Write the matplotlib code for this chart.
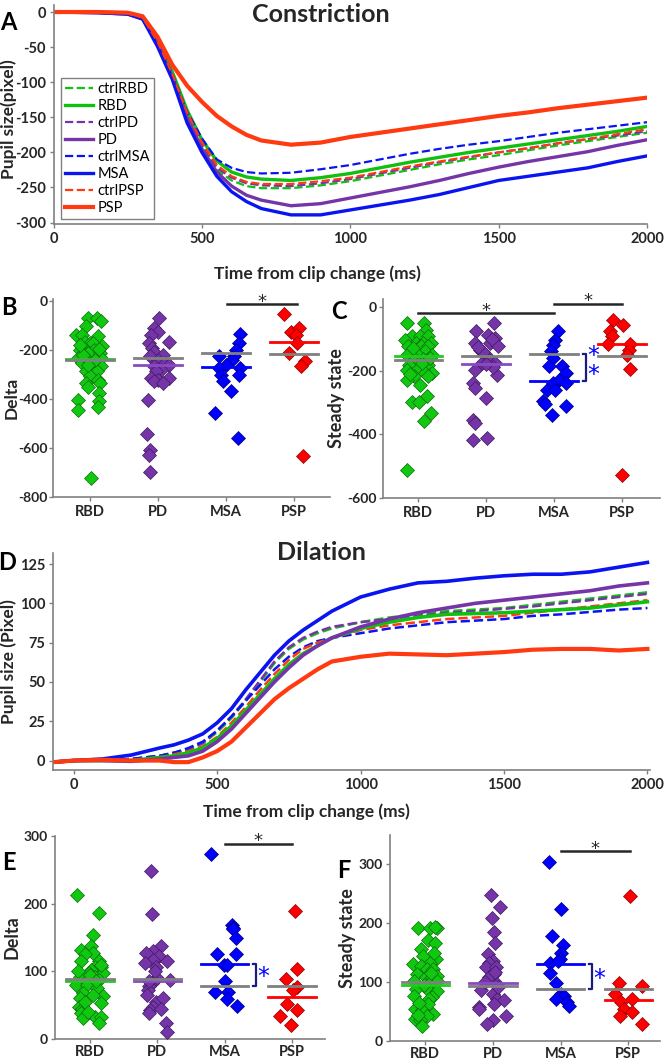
import matplotlib
matplotlib.use("Agg")
import matplotlib.pyplot as plt

plt.rcParams['font.family'] = ['Lato', 'DejaVu Sans']
plt.rcParams['axes.unicode_minus'] = False

groups = ['RBD', 'PD', 'MSA', 'PSP']

# ---------------- A: constriction curves ----------------
t_con = [0, 150, 250, 300, 350, 400, 450, 500, 550, 600, 650, 700, 800, 900, 1000,
         1100, 1200, 1300, 1400, 1500, 1600, 1700, 1800, 1900, 2000]
con_ctrlRBD = [0, 0, -2, -8, -42, -88, -145, -190, -225, -240, -248, -251, -251, -247, -241,
               -233, -225, -217, -210, -204, -197, -190, -184, -178, -172]
con_RBD = [0, 0, -2, -8, -40, -85, -140, -182, -212, -228, -235, -238, -240, -236, -230,
           -222, -214, -207, -200, -194, -188, -182, -176, -170, -163]
con_ctrlPD = [0, -1, -3, -9, -44, -90, -145, -188, -222, -236, -244, -247, -248, -244, -238,
              -230, -222, -214, -207, -200, -194, -187, -181, -176, -170]
con_PD = [0, -1, -3, -10, -45, -92, -150, -195, -228, -248, -261, -268, -276, -273, -265,
          -257, -249, -240, -230, -221, -213, -206, -199, -190, -182]
con_ctrlMSA = [0, -1, -3, -9, -43, -88, -142, -180, -210, -222, -228, -230, -229, -224, -218,
               -210, -202, -195, -189, -184, -178, -172, -167, -162, -157]
con_MSA = [0, -1, -3, -10, -49, -96, -158, -200, -234, -256, -270, -280, -289, -289, -282,
           -275, -268, -260, -250, -240, -234, -228, -222, -213, -205]
con_ctrlPSP = [0, 0, -2, -8, -42, -88, -143, -186, -218, -234, -242, -245, -245, -241, -236,
               -228, -220, -213, -206, -200, -194, -187, -181, -174, -167]
con_PSP = [0, 0, -1, -6, -35, -75, -105, -128, -148, -163, -175, -183, -189, -186, -178,
           -172, -166, -160, -154, -148, -143, -137, -132, -127, -122]

# ---------------- D: dilation curves ----------------
t_dil = [-70, 0, 100, 200, 300, 350, 400, 450, 500, 550, 600, 650, 700, 750, 800, 850, 900,
         1000, 1100, 1200, 1300, 1400, 1500, 1600, 1700, 1800, 1900, 2000]
dil_ctrlRBD = [-1, 0, 0, 1, 3, 5, 7, 11, 18, 27, 38, 50, 62, 71, 77, 81, 84,
               88, 91, 93, 95, 96, 97, 99, 101, 103, 105, 107]
dil_RBD = [-1, 0, 0, 0, 2, 3, 5, 8, 14, 22, 32, 42, 52, 61, 68, 73, 78,
           84, 88, 91, 93, 93.5, 94, 95, 96, 97, 99, 101]
dil_ctrlPD = [-1, 0, 0, 1, 3, 5, 7, 11, 19, 28, 39, 51, 63, 72, 78, 82, 85,
              88, 90, 92, 94, 95, 96.5, 98, 100, 102, 104, 106]
dil_PD = [-1, 0, 0, -0.5, 1, 2, 3, 6, 12, 20, 30, 40, 50, 59, 67, 73, 78,
          85, 90, 94, 97, 100, 102, 104, 106, 108, 111, 113]
dil_ctrlMSA = [-1, 0, 0, 1, 3, 5, 8, 12, 19, 28, 38, 48, 58, 66, 72, 76, 78,
               81, 84, 86, 88, 89, 90, 92, 93, 94.5, 96, 97]
dil_MSA = [-1, 0, 1, 3.5, 8, 10, 13, 17, 24, 33, 45, 56, 67, 76, 83, 89, 95,
           104, 109, 113, 114, 116, 117.5, 118.5, 118.5, 120, 123, 126]
dil_ctrlPSP = [-1, 0, 0, 0.5, 2, 4, 6, 9, 15, 24, 34, 45, 55, 64, 71, 75, 78,
               83, 86, 88, 90, 91, 92, 94, 96, 98, 100, 102]
dil_PSP = [-1, 0, 0.5, 0, 0, -1, -1, 2, 6, 12, 21, 30, 39, 46, 52, 58, 63,
           66, 68, 67.5, 67, 68, 69, 70.5, 71, 71, 70, 71]

# ---------------- B: constriction delta ----------------
b_rbd = [-68, -68, -82, -102, -136, -136, -143, -164, -170, -170, -184, -198, -198, -211, -211,
         -232, -232, -232, -252, -252, -252, -266, -286, -286, -307, -320, -334, -334, -348, -375,
         -402, -409, -430, -443, -723, -220, -240, -260, -195, -180]
b_rbd_j = [-0.02, 0.10, 0.16, -0.06, -0.20, -0.12, 0.12, -0.07, 0.0, 0.05, 0.18, -0.15, 0.06, -0.02, 0.15,
           -0.18, -0.05, 0.17, -0.12, 0.02, 0.11, 0.17, -0.05, 0.10, 0.0, 0.12, -0.06, 0.15, -0.02, 0.14,
           -0.18, 0.14, 0.12, -0.18, 0.02, -0.10, 0.08, -0.03, 0.13, -0.14]
b_pd = [-68, -109, -123, -136, -164, -170, -191, -205, -218, -225, -239, -252, -259, -266, -280,
        -286, -314, -314, -320, -327, -334, -402, -541, -607, -630, -698]
b_pd_j = [0.02, -0.05, 0.0, -0.10, 0.17, -0.13, -0.08, -0.05, 0.07, -0.11, 0.0, 0.10, 0.17, -0.05, 0.05,
          -0.02, -0.10, 0.17, 0.0, -0.05, 0.07, -0.15, -0.16, -0.11, -0.13, -0.11]
b_msa = [-132, -170, -200, -225, -225, -239, -259, -273, -273, -300, -300, -327, -368, -457, -559]
b_msa_j = [0.21, 0.19, 0.15, -0.10, 0.12, 0.09, 0.0, -0.10, 0.21, -0.07, 0.19, -0.04, 0.07, -0.16, 0.18]
b_psp = [-50, -123, -109, -136, -168, -211, -245, -266, -634]
b_psp_j = [-0.15, -0.05, 0.08, 0.03, 0.05, -0.07, 0.16, 0.10, 0.13]
b_mean = [-236, -259, -270, -166]
b_ctrl = [-241, -232, -209, -215]

# ---------------- C: constriction steady state ----------------
c_rbd = [-50, -50, -71, -92, -92, -92, -103, -113, -113, -113, -124, -124, -124, -139, -139,
         -150, -150, -150, -165, -165, -181, -181, -197, -197, -207, -207, -218, -218, -228, -244,
         -281, -299, -299, -333, -357, -513, -130, -175, -210, -160]
c_rbd_j = [-0.16, 0.09, 0.12, -0.10, 0.02, 0.15, -0.19, -0.04, 0.07, 0.19, -0.15, 0.04, 0.14, -0.07, 0.10,
           -0.17, 0.0, 0.20, -0.05, 0.07, -0.14, 0.15, -0.16, -0.02, 0.20, 0.10, -0.07, 0.15, -0.17, 0.02,
           0.13, -0.10, 0.01, 0.19, 0.09, -0.16, -0.08, 0.05, -0.12, 0.17]
c_pd = [-50, -77, -87, -97, -113, -113, -124, -134, -150, -165, -176, -176, -197, -213, -239,
        -255, -286, -354, -365, -417, -412, -100, -140, -190, -125, -180]
c_pd_j = [0.11, -0.15, 0.03, 0.13, -0.17, 0.06, 0.18, -0.09, -0.01, 0.03, -0.06, 0.13, -0.17, 0.16, -0.19,
          -0.17, -0.01, -0.19, -0.16, -0.19, 0.01, 0.08, -0.04, 0.10, -0.12, 0.0]
c_msa = [-77, -103, -118, -139, -160, -186, -186, -207, -228, -239, -239, -260, -260, -296, -305, -312, -338]
c_msa_j = [0.06, 0.02, -0.02, -0.04, -0.01, -0.07, 0.12, 0.18, 0.07, -0.02, 0.17, -0.10, 0.02, -0.16, -0.13, 0.18, -0.03]
c_psp = [-40, -56, -77, -92, -116, -116, -134, -150, -195, -527]
c_psp_j = [-0.13, 0.01, -0.17, -0.15, -0.21, 0.12, 0.10, 0.07, 0.12, 0.0]
c_mean = [-153, -179, -231, -115]
c_ctrl = [-168, -153, -148, -153]

# ---------------- E: dilation delta ----------------
e_rbd = [213, 186, 154, 137, 132, 127, 125, 115, 115, 107, 107, 102, 102, 97, 97,
         92, 92, 87, 87, 80, 80, 75, 68, 63, 60, 53, 48, 45, 38, 33,
         33, 31, 23, 95, 55, 85, 100, 65, 110, 40]
e_rbd_j = [-0.19, 0.14, 0.05, 0.01, -0.14, 0.04, -0.07, -0.13, 0.14, 0.07, 0.17, 0.12, 0.01, -0.02, 0.19,
           -0.15, 0.07, -0.05, 0.14, -0.21, -0.05, 0.11, -0.10, 0.20, -0.15, 0.17, -0.17, -0.12, -0.13, 0.07,
           0.17, -0.10, 0.14, 0.0, -0.08, 0.09, -0.18, 0.04, 0.16, -0.03]
e_pd = [248, 184, 137, 130, 127, 122, 117, 115, 112, 107, 87, 83, 78, 73, 65,
        55, 48, 43, 38, 23, 11, 90, 100, 60, 85, 45]
e_pd_j = [-0.10, -0.08, 0.06, -0.07, -0.17, 0.03, -0.06, 0.14, -0.18, -0.02, 0.19, -0.08, -0.13, -0.14, -0.16,
          -0.02, -0.07, -0.11, -0.13, 0.13, 0.14, 0.0, -0.04, 0.08, -0.12, 0.05]
e_msa = [273, 169, 164, 162, 149, 126, 126, 110, 110, 85, 70, 70, 59, 49]
e_msa_j = [-0.21, 0.11, 0.12, 0.13, 0.17, -0.11, 0.17, -0.01, 0.03, 0.01, -0.15, 0.05, 0.03, 0.18]
e_psp = [189, 103, 89, 77, 73, 52, 43, 34, 21]
e_psp_j = [0.05, 0.07, -0.09, 0.08, 0.01, -0.07, 0.08, -0.18, -0.02]
e_mean = [85, 85, 111, 62]
e_ctrl = [89, 88, 79, 79]

# ---------------- F: dilation steady state ----------------
f_rbd = [192, 192, 192, 194, 172, 167, 156, 144, 139, 133, 131, 127, 122, 122, 113,
         111, 108, 108, 102, 102, 97, 88, 85, 85, 77, 74, 71, 63, 54, 52,
         46, 43, 38, 35, 26, 95, 115, 65, 150, 45]
f_rbd_j = [-0.10, 0.07, 0.17, 0.15, 0.04, 0.14, -0.06, -0.03, 0.16, 0.07, -0.18, -0.06, 0.02, 0.11, -0.12,
           0.17, 0.01, 0.10, -0.17, 0.17, 0.06, -0.14, 0.06, 0.18, -0.17, 0.10, 0.06, 0.04, -0.15, -0.05,
           0.12, 0.02, -0.15, -0.07, -0.05, -0.02, 0.09, -0.09, 0.13, -0.11]
f_pd = [248, 227, 209, 185, 166, 147, 136, 133, 125, 125, 113, 108, 97, 87, 80,
        71, 70, 57, 54, 63, 43, 36, 29, 92, 100, 118]
f_pd_j = [-0.03, 0.11, -0.01, 0.01, 0.03, -0.07, 0.0, -0.05, -0.10, 0.04, 0.01, -0.05, 0.06, -0.17, 0.0,
          0.06, 0.16, -0.21, -0.20, 0.01, 0.19, 0.0, -0.08, 0.08, -0.12, 0.03]
f_msa = [304, 224, 178, 163, 150, 139, 133, 136, 116, 99, 80, 77, 71, 66, 60]
f_msa_j = [-0.17, 0.01, -0.12, 0.03, 0.01, -0.01, -0.16, -0.03, -0.16, -0.07, 0.0, 0.05, -0.06, 0.09, 0.12]
f_psp = [247, 99, 93, 80, 71, 67, 54, 49, 43, 29]
f_psp_j = [0.03, -0.14, 0.20, -0.19, 0.06, -0.11, -0.06, 0.05, -0.12, 0.20]
f_mean = [95, 98, 130, 70]
f_ctrl = [101, 94, 89, 89]

green = '#10c010'
purple = '#7535a8'
blue = '#0a14f0'
red = '#ff3a10'
pt_face = ['#10c810', '#7535a8', '#0000ff', '#ff0000']
pt_edge = ['#0a6a0a', '#3e1a5e', '#00007a', '#8a0000']
mean_col = ['#20cc20', '#8a4ac4', '#0000ff', '#ff0000']
grey = '#808080'
navy = '#1a1a80'
ink = '#262626'

fig = plt.figure(figsize=(6.64, 10.62), dpi=100)


def px_axes(left, top, right, bottom):
    return fig.add_axes([left / 664, 1 - bottom / 1062, (right - left) / 664, (bottom - top) / 1062])


def style(ax, xsize, ysize, xpad=2.5, ypad=2.5):
    for s in ['top', 'right']:
        ax.spines[s].set_visible(False)
    for s in ['left', 'bottom']:
        ax.spines[s].set_color(grey)
        ax.spines[s].set_linewidth(1.2)
    ax.tick_params(colors=grey, labelcolor=ink, length=3, width=1)
    ax.tick_params(axis='x', pad=xpad, labelsize=xsize)
    ax.tick_params(axis='y', pad=ypad, labelsize=ysize)
    for lab in ax.get_xticklabels() + ax.get_yticklabels():
        lab.set_fontweight('bold')


# ---- A ----
axA = px_axes(53.6, 5, 647, 224)
axA.plot(t_con, con_ctrlRBD, '--', color=green, lw=1.6, label='ctrlRBD')
axA.plot(t_con, con_RBD, '-', color=green, lw=2.4, label='RBD')
axA.plot(t_con, con_ctrlPD, '--', color=purple, lw=1.6, label='ctrlPD')
axA.plot(t_con, con_PD, '-', color=purple, lw=2.4, label='PD')
axA.plot(t_con, con_ctrlMSA, '--', color=blue, lw=1.6, label='ctrlMSA')
axA.plot(t_con, con_MSA, '-', color=blue, lw=2.4, label='MSA')
axA.plot(t_con, con_ctrlPSP, '--', color=red, lw=1.6, label='ctrlPSP')
axA.plot(t_con, con_PSP, '-', color=red, lw=3.0, label='PSP')
axA.set_xlim(0, 2000)
axA.set_ylim(-302, 10)
axA.set_xticks([0, 500, 1000, 1500, 2000])
axA.set_yticks([0, -50, -100, -150, -200, -250, -300])
style(axA, 10.5, 10.5)
axA.set_ylabel('Pupil size(pixel)', fontsize=12.5, fontweight='bold', color=ink)
axA.yaxis.set_label_coords(-0.062, 0.48)
axA.set_xlabel('Time from clip change (ms)', fontsize=12.5, fontweight='bold', color=ink)
axA.xaxis.set_label_coords(0.444, -0.19)
leg = axA.legend(loc='upper left', bbox_to_anchor=(0.012, 0.667), borderaxespad=0, fontsize=10.5,
                 labelspacing=0.2, borderpad=0.3, handlelength=1.9, handletextpad=0.3,
                 fancybox=False, framealpha=1)
leg.get_frame().set_edgecolor(grey)
leg.get_frame().set_linewidth(1)
fig.text(321 / 664, 1 - 14 / 1062, 'Constriction', ha='center', va='center', fontsize=18, fontweight='bold',
         color=ink)

# ---- D ----
axD = px_axes(53, 553, 650, 770)
axD.plot(t_dil, dil_ctrlRBD, '--', color=green, lw=1.8)
axD.plot(t_dil, dil_ctrlPD, '--', color=purple, lw=1.8)
axD.plot(t_dil, dil_ctrlMSA, '--', color=blue, lw=1.8)
axD.plot(t_dil, dil_ctrlPSP, '--', color=red, lw=1.8)
axD.plot(t_dil, dil_RBD, '-', color=green, lw=2.6)
axD.plot(t_dil, dil_PD, '-', color=purple, lw=2.6)
axD.plot(t_dil, dil_MSA, '-', color=blue, lw=2.6)
axD.plot(t_dil, dil_PSP, '-', color=red, lw=3.0)
axD.set_xlim(-72, 2009)
axD.set_ylim(-6, 132)
axD.set_xticks([0, 500, 1000, 1500, 2000])
axD.set_yticks([0, 25, 50, 75, 100, 125])
style(axD, 10.5, 10.5)
axD.set_ylabel('Pupil size (Pixel)', fontsize=12.5, fontweight='bold', color=ink)
axD.yaxis.set_label_coords(-0.06, 0.5)
axD.set_xlabel('Time from clip change (ms)', fontsize=12.5, fontweight='bold', color=ink)
axD.xaxis.set_label_coords(0.425, -0.155)
fig.text(321 / 664, 1 - 552 / 1062, 'Dilation', ha='center', va='center', fontsize=18, fontweight='bold',
         color=ink)


# ---- scatter panels ----
def scatter_panel(ax, vals, jits, means, ctrls):
    for i in range(4):
        xs = [i + 1 + j for j in jits[i]]
        ax.plot(xs, vals[i], 'D', ms=7, mfc=pt_face[i], mec=pt_edge[i], mew=0.5, ls='none', zorder=3)
    for i in range(4):
        ax.plot([i + 1 - 0.35, i + 1 + 0.35], [means[i], means[i]], color=mean_col[i], lw=2, zorder=4)
        ax.plot([i + 1 - 0.35, i + 1 + 0.35], [ctrls[i], ctrls[i]], color=grey, lw=2, zorder=4)
    ax.set_xticks([1, 2, 3, 4])
    ax.set_xticklabels(groups)


def sig_bar(ax, x0, x1, y, dy):
    ax.plot([x0, x1], [y, y], color=ink, lw=1.8, clip_on=False)
    ax.text((x0 + x1) / 2, y + dy, '*', ha='center', va='center', fontsize=13, color=ink,
            family='DejaVu Sans', clip_on=False)


def bracket(ax, y0, y1, stars, ys):
    xa, xb = 3.42, 3.47
    ax.plot([xa, xb, xb, xa], [y0, y0, y1, y1], color=navy, lw=1.6, clip_on=False)
    ax.text(3.57, ys, stars, ha='center', va='center', fontsize=17, color='#0000ff',
            family='DejaVu Sans', linespacing=0.75)


axB = px_axes(53, 299, 330, 497)
scatter_panel(axB, [b_rbd, b_pd, b_msa, b_psp], [b_rbd_j, b_pd_j, b_msa_j, b_psp_j], b_mean, b_ctrl)
axB.set_xlim(0.46, 4.53)
axB.set_ylim(-800, 10)
axB.set_yticks([0, -200, -400, -600, -800])
style(axB, 10.5, 10, ypad=1)
axB.set_ylabel('Delta', fontsize=12.5, fontweight='bold', color=ink)
axB.yaxis.set_label_coords(-0.12, 0.5)
sig_bar(axB, 3.02, 4.04, -12, 10)

axC = px_axes(383, 299, 660, 498)
scatter_panel(axC, [c_rbd, c_pd, c_msa, c_psp], [c_rbd_j, c_pd_j, c_msa_j, c_psp_j], c_mean, c_ctrl)
axC.set_xlim(0.48, 4.56)
axC.set_ylim(-600, 25)
axC.set_yticks([0, -200, -400, -600])
style(axC, 10.5, 10, ypad=1.5)
axC.set_ylabel('Steady state', fontsize=13, fontweight='bold', color=ink)
axC.yaxis.set_label_coords(-0.137, 0.5)
sig_bar(axC, 1.0, 3.0, -20, 8)
sig_bar(axC, 3.0, 4.0, 10, 8)
bracket(axC, -148, -231, '*\n*', -185)

axE = px_axes(55, 836, 325, 1039)
scatter_panel(axE, [e_rbd, e_pd, e_msa, e_psp], [e_rbd_j, e_pd_j, e_msa_j, e_psp_j], e_mean, e_ctrl)
axE.set_xlim(0.48, 4.49)
axE.set_ylim(0, 300)
axE.set_yticks([0, 100, 200, 300])
style(axE, 10.5, 10, xpad=1)
axE.set_ylabel('Delta', fontsize=13, fontweight='bold', color=ink)
axE.yaxis.set_label_coords(-0.126, 0.5)
sig_bar(axE, 3.0, 4.0, 288, 4)
bracket(axE, 111, 79, '*', 92)

axF = px_axes(390, 835, 660, 1041)
scatter_panel(axF, [f_rbd, f_pd, f_msa, f_psp], [f_rbd_j, f_pd_j, f_msa_j, f_psp_j], f_mean, f_ctrl)
axF.set_xlim(0.48, 4.47)
axF.set_ylim(0, 350)
axF.set_yticks([0, 100, 200, 300])
style(axF, 10.5, 10, xpad=1)
axF.set_ylabel('Steady state', fontsize=13, fontweight='bold', color=ink)
axF.yaxis.set_label_coords(-0.126, 0.5)
sig_bar(axF, 3.0, 4.02, 322, 5)
bracket(axF, 130, 89, '*', 106)

# panel letters
for letter, x, y in [('A', 8, 22), ('B', 9, 308), ('C', 339, 311), ('D', 7, 563), ('E', 9, 862),
                     ('F', 344, 870)]:
    fig.text(x / 664, 1 - y / 1062, letter, ha='center', va='center', fontsize=17, fontweight='bold',
             color='black')

fig.savefig('out.png', dpi=100)
